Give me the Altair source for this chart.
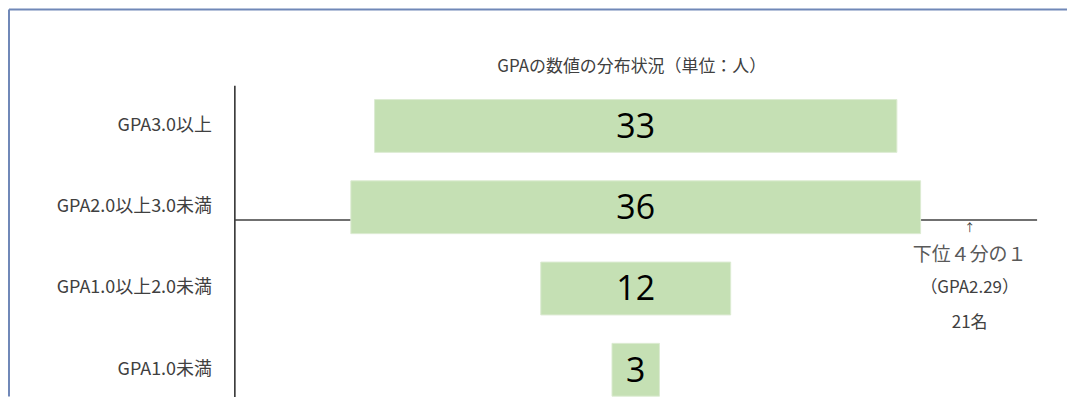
import altair as alt
import pandas as pd

# ---- data ----
categories = ["GPA3.0以上", "GPA2.0以上3.0未満", "GPA1.0以上2.0未満", "GPA1.0未満"]
counts = [33, 36, 12, 3]
x_half_range = 25.36          # symmetric count axis (hidden)
quartile_row = "GPA2.0以上3.0未満"
annot_x = 21.1
annot_lines = ["↑", "下位４分の１", "（GPA2.29）", "21名"]

df = pd.DataFrame({"cat": categories, "n": counts})
one = pd.DataFrame({"k": [0]})

FONT = "Noto Sans CJK JP"
xs = alt.Scale(domain=[-x_half_range, x_half_range], nice=False, zero=False)
ys = alt.Scale(domain=categories, paddingInner=0.35, paddingOuter=0.0891, align=0.9817)

base = alt.Chart(df).transform_calculate(lo="-datum.n/2", hi="datum.n/2")

bars = base.mark_bar(color="#c5e0b4", stroke="#dcebd2", strokeWidth=1).encode(
    y=alt.Y("cat:N", scale=ys, title=None,
            axis=alt.Axis(domain=True, domainColor="#262626", domainWidth=1.5,
                          ticks=False, tickSize=0, labelPadding=23, labelFontSize=18,
                          labelColor="#404040", labelFont=FONT, grid=False)),
    x=alt.X("lo:Q", scale=xs, axis=None),
    x2="hi:Q",
)

labels = base.mark_text(font="Open Sans", fontSize=34, dy=2, baseline="middle",
                        color="black").encode(
    y=alt.Y("cat:N", scale=ys),
    x=alt.datum(0),
    text="n:Q",
)

hline = alt.Chart(one).mark_rule(color="#404040", strokeWidth=1.5, yOffset=12.75).encode(
    y=alt.datum(quartile_row)
)

ann_specs = [
    (annot_lines[0], 21.75, 11, "#404040"),
    (annot_lines[1], 47.75, 19, "#595959"),
    (annot_lines[2], 80.75, 17, "#404040"),
    (annot_lines[3], 115.75, 17, "#404040"),
]
ann_layers = [
    alt.Chart(one).mark_text(font=FONT, fontSize=fs, dy=dy, baseline="middle",
                             color=c).encode(
        x=alt.datum(annot_x), y=alt.datum(quartile_row), text=alt.value(t))
    for t, dy, fs, c in ann_specs
]

frame_top = alt.Chart(one).mark_rule(color="#7088b8", strokeWidth=2).encode(
    x=alt.value(-226), x2=alt.value(835), y=alt.value(-76))
frame_left = alt.Chart(one).mark_rule(color="#7088b8", strokeWidth=2).encode(
    x=alt.value(-226), y=alt.value(-76), y2=alt.value(312))

chart = alt.layer(frame_top, frame_left, hline, bars, labels, *ann_layers).properties(
    width=805,
    height=312,
    padding={"left": 227, "top": 77, "right": 30, "bottom": 0},
    autosize=alt.AutoSizeParams(type="none"),
    title=alt.TitleParams("GPAの数値の分布状況（単位：人）", fontSize=17, font=FONT,
                          fontWeight="normal", color="#404040", offset=10,
                          anchor="middle", dx=-4, dy=78),
).configure_view(stroke=None)

chart.save("out.html", embed_options={"renderer": "svg", "actions": False})
